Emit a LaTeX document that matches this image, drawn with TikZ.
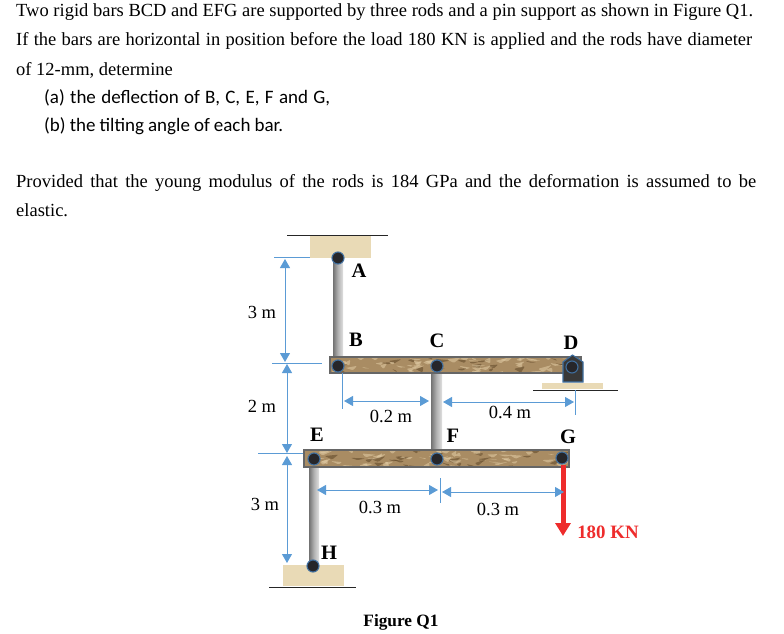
\documentclass[tikz,border=0pt]{standalone}
\usepackage{fontspec}
\setmainfont{Liberation Serif}
\newfontfamily\calfont{Carlito}
\usetikzlibrary{arrows.meta}
\definecolor{dimblue}{HTML}{5B9BD5}
\definecolor{pinblue}{HTML}{3F6E9E}
\definecolor{pinfill}{HTML}{26262A}
\definecolor{tanfill}{HTML}{E9DAB6}
\definecolor{barbrown}{HTML}{A98C63}
\definecolor{darkbrown}{HTML}{5E4526}
\definecolor{lightbrown}{HTML}{E2CDA6}
\definecolor{loadred}{HTML}{EE2C2C}
\newcommand{\bartexture}[4]{%
  \begin{scope}
    \clip (#1,#2) rectangle (#3,#4);
    \fill[barbrown] (#1,#2) rectangle (#3,#4);
    \pgfmathsetmacro{\barlen}{#3-#1}
    \foreach \k in {1,...,90}{
      \pgfmathsetmacro{\px}{#1+rnd*\barlen}
      \pgfmathsetmacro{\py}{#2+rnd*17}
      \pgfmathsetmacro{\qx}{\px+5+rnd*10}
      \pgfmathsetmacro{\qy}{\py+2-rnd*6}
      \pgfmathsetmacro{\rx}{\px+3+rnd*5}
      \pgfmathsetmacro{\ry}{\py+1+rnd*3}
      \pgfmathparse{mod(\k,3)==0?"darkbrown":"lightbrown"}
      \edef\mycol{\pgfmathresult}
      \fill[\mycol,opacity=.55,rounded corners=1pt] (\px,\py) -- (\qx,\qy) -- (\rx,\ry) -- cycle;
    }
  \end{scope}
  \draw[baredge] (#1,#2) rectangle (#3,#4);
}
\tikzset{
  bodytext/.style={anchor=base west,inner sep=0pt,font=\fontsize{18.5}{20}\selectfont},
  parttext/.style={anchor=base west,inner sep=0pt,font=\calfont\fontsize{19}{20}\selectfont},
  ptlabel/.style={inner sep=0pt,font=\bfseries\fontsize{20.5}{21}\selectfont},
  dimlabel/.style={inner sep=0pt,font=\fontsize{18.5}{20}\selectfont},
  pin/.style={circle,draw=pinblue,fill=pinfill,line width=1.1pt,minimum size=12pt,inner sep=0pt},
  baredge/.style={draw=black!60,line width=1.2pt},
  rod/.style={left color=black!55,right color=black!12,middle color=black!30,draw=none},
  basefill/.style={fill=tanfill,draw=none},
  groundline/.style={draw=black!85,line width=1pt},
  dimline/.style={draw=dimblue,line width=1pt,{Triangle[length=9pt,width=10pt]}-{Triangle[length=9pt,width=10pt]}},
  dimtick/.style={draw=dimblue,line width=1pt},
}
\begin{document}
\begin{tikzpicture}[x=1pt,y=-1pt]
\useasboundingbox (0,0) rectangle (784,634);
\pgfmathsetseed{11}
% problem text
\node[bodytext] (t1) at (16,17) {\makebox[737pt][s]{Two rigid bars BCD and EFG are supported by three rods and a pin support as shown in Figure Q1.}};
\node[bodytext] (t2) at (16,46) {\makebox[736pt][s]{If the bars are horizontal in position before the load 180 KN is applied and the rods have diameter}};
\node[bodytext] (t3) at (16,75) {of 12-mm, determine};
\node[parttext] (t4) at (44,103) {\makebox[286pt][s]{(a) the deflection of B, C, E, F and G,}};
\node[parttext] (t5) at (44,131) {\makebox[239pt][s]{(b) the tilting angle of each bar.}};
\node[bodytext] (t6) at (16,187) {\makebox[740pt][s]{Provided that the young modulus of the rods is 184 GPa and the deformation is assumed to be}};
\node[bodytext] (t7) at (16,216) {elastic.};
% supports
\fill[basefill] (310,235) rectangle (371,258);
\draw[groundline] (287,235) -- (388,235);
\fill[basefill] (283,565) rectangle (344,586);
\draw[groundline] (269,587) -- (356,587);
\fill[basefill] (542,383) rectangle (603,389);
\draw[groundline] (533,390) -- (618,390);
% rods
\fill[rod] (333,258) rectangle (343,357);
\fill[rod] (431,373) rectangle (442,451);
\fill[rod] (309,467) rectangle (319,566);
% bars
\bartexture{330}{357}{581}{373}
\bartexture{304}{450}{569}{467}
% pin bracket at D
\draw[fill=black!78,draw=pinblue,line width=1.1pt] (563,382) -- (563,362) -- (572.5,355) -- (583,362) -- (583,382) -- cycle;
% pins
\node[pin] (A) at (338,258) {};
\node[pin] (B) at (338,366) {};
\node[pin] (C) at (437,366) {};
\node[pin] (D) at (572,367) {};
\node[pin] (E) at (314,459) {};
\node[pin] (F) at (437,459) {};
\node[pin] (G) at (562,458) {};
\node[pin] (H) at (313,566) {};
% load
\coordinate (loadtip) at (563,536);
\draw[loadred,line width=5pt,-{Triangle[length=13pt,width=15pt]}] (G.south -| loadtip) -- (loadtip);
\node[inner sep=0pt,text=loadred,font=\bfseries\fontsize{18.9}{20}\selectfont] (load) at (608,532) {180 KN};
% dimension references
\coordinate (v1a) at (285,259); \coordinate (v1b) at (285,362);
\coordinate (v2a) at (287,364); \coordinate (v2b) at (287,453);
\coordinate (v3a) at (287,456); \coordinate (v3b) at (287,563);
\coordinate (h1a) at (344,401); \coordinate (h1b) at (429,401);
\coordinate (h2a) at (443,402); \coordinate (h2b) at (574,402);
\coordinate (h3a) at (317,490); \coordinate (h3b) at (438,490);
\coordinate (h4a) at (442,492); \coordinate (h4b) at (564,492);
\draw[dimline] (v1a) -- (v1b);
\draw[dimline] (v2a) -- (v2b);
\draw[dimline] (v3a) -- (v3b);
\draw[dimline] (h1a) -- (h1b);
\draw[dimline] (h2a) -- (h2b);
\draw[dimline] (h3a) -- (h3b);
\draw[dimline] (h4a) -- (h4b);
\draw[dimtick] (274,257) -- (310,257);
\draw[dimtick] (272,363) -- (322,363);
\draw[dimtick] (258,453) -- (303,453);
\draw[dimtick] (342,373) -- (342,409);
\draw[dimtick] (575,390) -- (575,415);
\draw[dimtick] (440,478) -- (440,503);
% labels
\node[dimlabel] (d1) at (262,312) {3 m};
\node[dimlabel] (d2) at (262,406) {2 m};
\node[dimlabel] (d3) at (265,504) {3 m};
\node[dimlabel] (d4) at (391,416) {0.2 m};
\node[dimlabel] (d5) at (510,412) {0.4 m};
\node[dimlabel] (d6) at (380,507) {0.3 m};
\node[dimlabel] (d7) at (498,509) {0.3 m};
\node[ptlabel] (la) at (359,271) {A};
\node[ptlabel] (lb) at (356,340) {B};
\node[ptlabel] (lc) at (437,341) {C};
\node[ptlabel] (ld) at (571,343) {D};
\node[ptlabel] (le) at (317,435) {E};
\node[ptlabel] (lf) at (453,436) {F};
\node[ptlabel] (lg) at (568,437) {G};
\node[ptlabel] (lh) at (329,553) {H};
\node[inner sep=0pt,font=\bfseries\fontsize{17.3}{20}\selectfont] (fig) at (401,622) {Figure Q1};
\end{tikzpicture}
\end{document}
